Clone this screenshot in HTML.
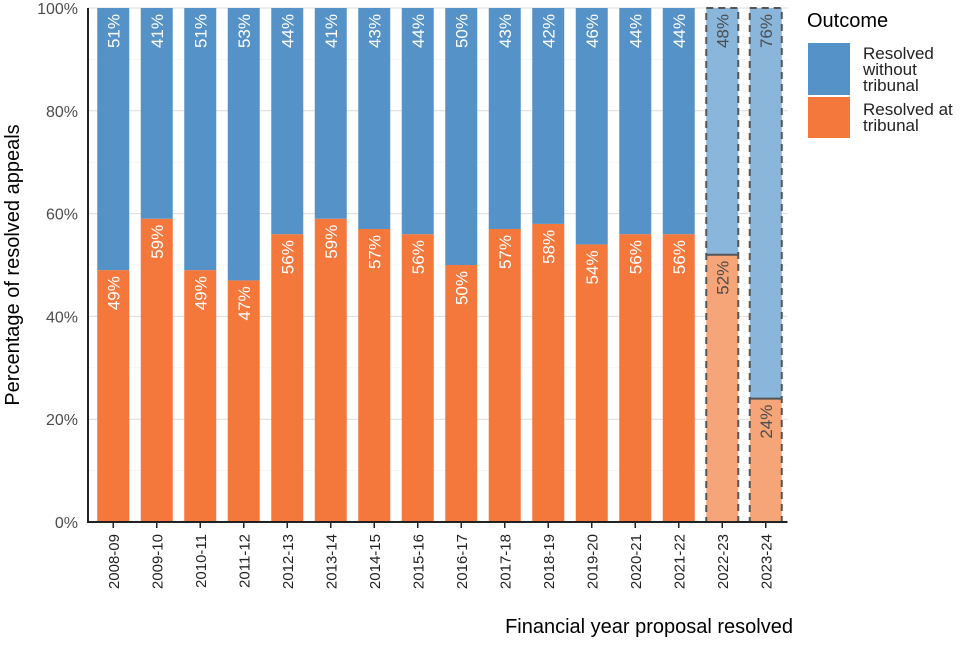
<!DOCTYPE html>
<html><head><meta charset="utf-8"><style>
body{margin:0;background:#fff;}
svg{font-family:"Liberation Sans",Arial,sans-serif;}
</style></head><body>
<svg id="c" width="960" height="640"></svg>
<script>
const years=["2008-09","2009-10","2010-11","2011-12","2012-13","2013-14","2014-15","2015-16","2016-17","2017-18","2018-19","2019-20","2020-21","2021-22","2022-23","2023-24"];
const atTribunal=[49,59,49,47,56,59,57,56,50,57,58,54,56,56,52,24];
const withoutTribunal=[51,41,51,53,44,41,43,44,50,43,42,46,44,44,48,76];
const provisional=[false,false,false,false,false,false,false,false,false,false,false,false,false,false,true,true];
const yTicks=[0,20,40,60,80,100];
const NS="http://www.w3.org/2000/svg";
const svg=document.getElementById('c');
const L=91.5,R=787.5,T=8,B=522;
const band=(R-L)/years.length, bw=32;
const x=i=>L+band*i+band/2;
const y=v=>B-(B-T)*v/100;
function el(t,a,p){const e=document.createElementNS(NS,t);for(const k in a)e.setAttribute(k,a[k]);(p||svg).appendChild(e);return e;}
for(let v=10;v<=100;v+=10){const g=el('line',{x1:88,x2:R,y1:y(v),y2:y(v),stroke:v%20?'#f0f0f0':'#dcdcdc','stroke-width':v%20?0.6:1});

}
yTicks.forEach(v=>{const t=el('text',{x:78,y:y(v)+6,'text-anchor':'end','font-size':16,fill:'#4d4d4d'});t.textContent=v+'%';

});
years.forEach((yr,i)=>{
 const cx=x(i),p=provisional[i];
 const g=el('g',{});
 
 
 const o=el('rect',{x:cx-bw/2,y:y(atTribunal[i]),width:bw,height:B-y(atTribunal[i]),fill:p?'#f5a577':'#f4773b'},g);
 
 
 const b=el('rect',{x:cx-bw/2,y:y(100),width:bw,height:y(atTribunal[i])-y(100),fill:p?'#8ab6dc':'#5592c8'},g);
 
 
 if(p){const d=el('rect',{x:cx-bw/2,y:y(100),width:bw,height:B-y(100),fill:'none',stroke:'#555','stroke-width':2,'stroke-dasharray':'7,5'},g);
  
  
  const m=el('line',{x1:cx-bw/2,x2:cx+bw/2,y1:y(atTribunal[i]),y2:y(atTribunal[i]),stroke:'#555','stroke-width':2},g);
  
  }
 const col=p?'#4d4d4d':'#fff';
 [[atTribunal[i],atTribunal[i]],[100,withoutTribunal[i]]].forEach(([top,val])=>{
  const ty=y(top)+6;
  const t=el('text',{transform:`translate(${cx+6},${ty}) rotate(-90)`,'text-anchor':'end','font-size':17,fill:col},g);
  t.textContent=val+'%';
  
  
 });
 const tk=el('line',{x1:cx,x2:cx,y1:B,y2:B+6,stroke:'#222','stroke-width':1.5});
 
 
 const xl=el('text',{transform:`translate(${cx+5.5},${B+12}) rotate(-90)`,'text-anchor':'end','font-size':15,fill:'#222'});
 xl.textContent=yr;
 
 
});
const ax=el('path',{d:`M88 ${T} V${B} H${R}`,fill:'none',stroke:'#222','stroke-width':2});


const yt=el('text',{transform:'translate(19,265) rotate(-90)','text-anchor':'middle','font-size':20,fill:'#000'});
yt.textContent='Percentage of resolved appeals';


const xt=el('text',{x:793,y:633,'text-anchor':'end','font-size':20,fill:'#000'});
xt.textContent='Financial year proposal resolved';


const lg=el('g',{});


const lt=el('text',{x:807,y:27,'font-size':20,fill:'#000'},lg);lt.textContent='Outcome';


const e1=el('rect',{x:808,y:43,width:42,height:52,fill:'#5592c8'},lg);


const e2=el('rect',{x:808,y:97,width:42,height:41,fill:'#f4773b'},lg);


[['Resolved',59],['without',75],['tribunal',91],['Resolved at',115],['tribunal',131]].forEach(([s,yy])=>{
 const t=el('text',{x:863,y:yy,'font-size':17,fill:'#222'},lg);t.textContent=s;
 
 
});
</script>
</body></html>
